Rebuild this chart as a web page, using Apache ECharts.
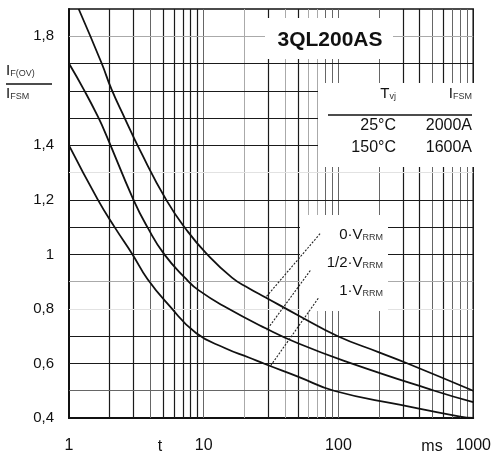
<!DOCTYPE html>
<html><head><meta charset="utf-8">
<script src="https://cdn.jsdelivr.net/npm/echarts@6/dist/echarts.min.js"></script>
<style>html,body{margin:0;padding:0;background:#fff}#c{width:494px;height:460px}</style>
</head><body><div id="c"></div>
<script>
// ---- data ----
const curve0V = [[1.18,1.9],[1.75,1.7],[2.07,1.605],[2.59,1.5],[3.34,1.385],[5.27,1.2],[7.53,1.087],[10.4,1.005],[16.2,0.915],[21.6,0.876],[28.8,0.842],[50,0.777],[99,0.70],[200,0.641],[326,0.60],[1000,0.50]];
const curveHalfV = [[1.0,1.7],[1.31,1.598],[1.64,1.505],[1.9,1.435],[3.01,1.2],[3.82,1.1],[5.1,1.0],[7.4,0.91],[9.2,0.868],[14.6,0.806],[28.8,0.729],[50,0.674],[117,0.605],[515,0.5],[1000,0.458]];
const curve1V = [[1.0,1.4],[1.64,1.2],[2.18,1.1],[2.96,1.0],[3.82,0.91],[5.55,0.812],[8.76,0.712],[14.6,0.655],[21.6,0.622],[28.8,0.597],[50,0.552],[94,0.499],[290,0.448],[800,0.405],[1000,0.40]];

const xGridDark = [2,3,5,6,7,8,9,30,50,300,400,600];
const xGridMedium = [4,10,80,90,100,200,500,700,800,900];
const xGridLight = [20,40,60,70];
const yGridDark = [0.6,0.7,1.0,1.1,1.2,1.4,1.5,1.6,1.7];
const yGridMedium = [0.5];
const yGridLight = [0.9,1.8];
const yGridFaint = [0.8,1.3];

const yLabelValues = [0.4,0.6,0.8,1.0,1.2,1.4,1.8];
const yLabelTexts = ['0,4','0,6','0,8','1','1,2','1,4','1,8'];
const xLabelValues = [1,10,100,1000];
const xLabelTexts = ['1','10','100','1000'];

const title = '3QL200AS';
const tableHead = ['T', 'vj', 'I', 'FSM'];
const tableRows = [['25°C','2000A'],['150°C','1600A']];
const curveNames = [['0·V','RRM'],['1/2·V','RRM'],['1·V','RRM']];
// leader lines in data coordinates [from, to]
const leaders = [[[73,1.076],[28.8,0.842]],[[61.8,0.941],[29.3,0.722]],[[70.8,0.839],[31.4,0.592]]];

// ---- chart ----
const FONT = 'Liberation Sans, Arial, sans-serif';
const styles = {
  dark: {color:'#1a1a1a', width:1.2, type:'solid'},
  medium: {color:'#666', width:1, type:'solid'},
  light: {color:'#aaa', width:1, type:'solid'},
  faint: {color:'#e2e2e2', width:1, type:'solid'}
};
const gridLines = [];
const addX = (arr, s) => arr.forEach(v => gridLines.push({xAxis:v, lineStyle:styles[s]}));
const addY = (arr, s) => arr.forEach(v => gridLines.push({yAxis:v, lineStyle:styles[s]}));
addX(xGridLight,'light'); addX(xGridMedium,'medium'); addX(xGridDark,'dark');
addY(yGridFaint,'faint'); addY(yGridLight,'light'); addY(yGridMedium,'medium'); addY(yGridDark,'dark');

const curveSeries = (data) => ({
  type:'line', data, smooth:0.5, symbol:'none', z:10, silent:true,
  lineStyle:{color:'#111', width:1.8}
});

const leaderSeries = {
  type:'line', data:[], z:11, silent:true,
  markLine:{
    silent:true, symbol:['none','none'], label:{show:false}, z:11, animation:false,
    lineStyle:{color:'#222', width:1.1, type:[2,1.5]},
    data: leaders.map(l => [{coord:l[0]},{coord:l[1]}])
  }
};

const sub = (main, s, fs, sfs) => ({
  text: '{m|' + main + '}{s|' + s + '}',
  rich: {
    m:{fontSize:fs, fontFamily:FONT, fill:'#111', lineHeight:fs+3, verticalAlign:'bottom'},
    s:{fontSize:sfs, fontFamily:FONT, fill:'#333', lineHeight:7, verticalAlign:'bottom'}
  }
});

const graphic = [
  // white boxes covering the grid behind annotations
  {type:'rect', shape:{x:265, y:18, width:128, height:41}, style:{fill:'#fff'}, z:5, silent:true},
  {type:'rect', shape:{x:318, y:83, width:156, height:84}, style:{fill:'#fff'}, z:5, silent:true},
  {type:'rect', shape:{x:300, y:215, width:88, height:96}, style:{fill:'#fff'}, z:5, silent:true},
  // title
  {type:'text', x:330, y:40, z:20, style:{text:title, font:'bold 21px ' + FONT, fill:'#111', textAlign:'center', textVerticalAlign:'middle'}},
  // y-axis name fraction
  {type:'text', x:6, y:78, z:20, style:Object.assign(sub('I','F(OV)',15,9), {textAlign:'left', textVerticalAlign:'bottom'})},
  {type:'line', shape:{x1:6, y1:84, x2:52, y2:84}, style:{stroke:'#111', lineWidth:1.5}, z:20},
  {type:'text', x:6, y:101, z:20, style:Object.assign(sub('I','FSM',15,9), {textAlign:'left', textVerticalAlign:'bottom'})},
  // table
  {type:'text', x:396, y:101, z:20, style:Object.assign(sub(tableHead[0],tableHead[1],15,9), {textAlign:'right', textVerticalAlign:'bottom'})},
  {type:'text', x:472, y:101, z:20, style:Object.assign(sub(tableHead[2],tableHead[3],15,9), {textAlign:'right', textVerticalAlign:'bottom'})},
  {type:'line', shape:{x1:328, y1:115, x2:472, y2:115}, style:{stroke:'#111', lineWidth:1.3}, z:20},
  {type:'text', x:396, y:126, z:20, style:{text:tableRows[0][0], font:'16px ' + FONT, fill:'#111', textAlign:'right', textVerticalAlign:'middle'}},
  {type:'text', x:472, y:126, z:20, style:{text:tableRows[0][1], font:'16px ' + FONT, fill:'#111', textAlign:'right', textVerticalAlign:'middle'}},
  {type:'text', x:396, y:148, z:20, style:{text:tableRows[1][0], font:'16px ' + FONT, fill:'#111', textAlign:'right', textVerticalAlign:'middle'}},
  {type:'text', x:472, y:148, z:20, style:{text:tableRows[1][1], font:'16px ' + FONT, fill:'#111', textAlign:'right', textVerticalAlign:'middle'}},
  // curve names
  {type:'text', x:383, y:242, z:20, style:Object.assign(sub(curveNames[0][0],curveNames[0][1],15,9), {textAlign:'right', textVerticalAlign:'bottom'})},
  {type:'text', x:383, y:270, z:20, style:Object.assign(sub(curveNames[1][0],curveNames[1][1],15,9), {textAlign:'right', textVerticalAlign:'bottom'})},
  {type:'text', x:383, y:298, z:20, style:Object.assign(sub(curveNames[2][0],curveNames[2][1],15,9), {textAlign:'right', textVerticalAlign:'bottom'})},
  // axis units
  {type:'text', x:160, y:447, z:20, style:{text:'t', font:'16px ' + FONT, fill:'#111', textAlign:'center', textVerticalAlign:'middle'}},
  {type:'text', x:432, y:447, z:20, style:{text:'ms', font:'16px ' + FONT, fill:'#111', textAlign:'center', textVerticalAlign:'middle'}}
];

const chart = echarts.init(document.getElementById('c'), null, {renderer:'canvas'});
chart.setOption({
  animation:false,
  backgroundColor:'#fff',
  grid:{left:69, right:18, top:9, bottom:42, show:true, borderColor:'#111', borderWidth:1.5, backgroundColor:'transparent'},
  xAxis:{
    type:'log', logBase:10, min:1, max:1000,
    axisLine:{show:true, onZero:false, lineStyle:{color:'#111', width:2}},
    axisTick:{show:false}, splitLine:{show:false}, minorTick:{show:false},
    axisLabel:{
      margin:20, fontSize:16, fontFamily:FONT, color:'#111',
      formatter: v => { const i = xLabelValues.findIndex(x => Math.abs(x - v) < 1e-6 * v); return i >= 0 ? xLabelTexts[i] : ''; }
    }
  },
  yAxis:{
    type:'value', min:0.4, max:1.9, interval:0.1,
    axisLine:{show:true, onZero:false, lineStyle:{color:'#111', width:2}},
    axisTick:{show:false}, splitLine:{show:false},
    axisLabel:{
      margin:15, fontSize:15, fontFamily:FONT, color:'#111',
      formatter: v => { const i = yLabelValues.findIndex(y => Math.abs(y - v) < 1e-6); return i >= 0 ? yLabelTexts[i] : ''; }
    }
  },
  series:[
    {type:'line', data:[], silent:true, z:1,
     markLine:{silent:true, symbol:['none','none'], label:{show:false}, z:1, animation:false, emphasis:{disabled:true}, data:gridLines}},
    curveSeries(curve0V),
    curveSeries(curveHalfV),
    curveSeries(curve1V),
    leaderSeries
  ],
  graphic: graphic
});
</script>
</body></html>
